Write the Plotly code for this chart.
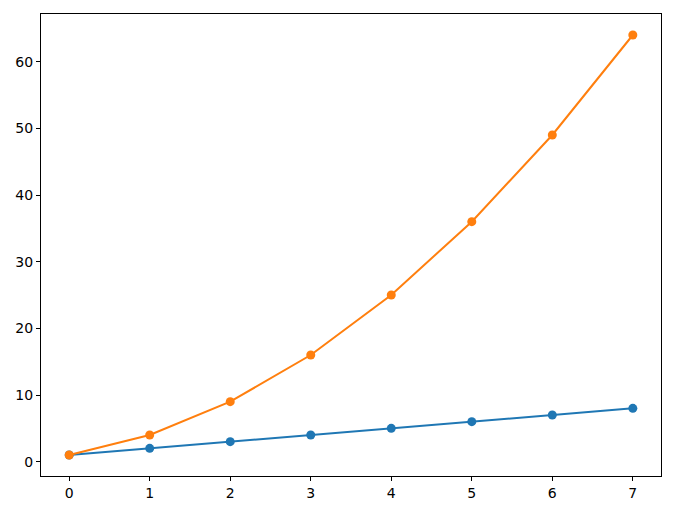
import plotly.graph_objects as go

x_vals = [0, 1, 2, 3, 4, 5, 6, 7]
linear_vals = [1, 2, 3, 4, 5, 6, 7, 8]
square_vals = [1, 4, 9, 16, 25, 36, 49, 64]

fig = go.Figure()
fig.add_trace(go.Scatter(x=x_vals, y=linear_vals, mode="lines+markers",
                         line=dict(color="#1f77b4", width=2),
                         marker=dict(color="#1f77b4", size=9)))
fig.add_trace(go.Scatter(x=x_vals, y=square_vals, mode="lines+markers",
                         line=dict(color="#ff7f0e", width=2),
                         marker=dict(color="#ff7f0e", size=9)))

axis_common = dict(showgrid=False, zeroline=False, showline=True, linecolor="black",
                   linewidth=1, mirror=True, ticks="outside", ticklen=4,
                   tickcolor="black", tickfont=dict(family="DejaVu Sans", size=14, color="black"))

fig.update_layout(
    width=667, height=503,
    margin=dict(l=33, r=14, t=6, b=35),
    paper_bgcolor="white", plot_bgcolor="white",
    showlegend=False,
    xaxis=dict(range=[-0.35, 7.35], tickvals=x_vals, **axis_common),
    yaxis=dict(range=[-2.15, 67.15], tickvals=[0, 10, 20, 30, 40, 50, 60], **axis_common),
)
fig.write_html("out.html")
